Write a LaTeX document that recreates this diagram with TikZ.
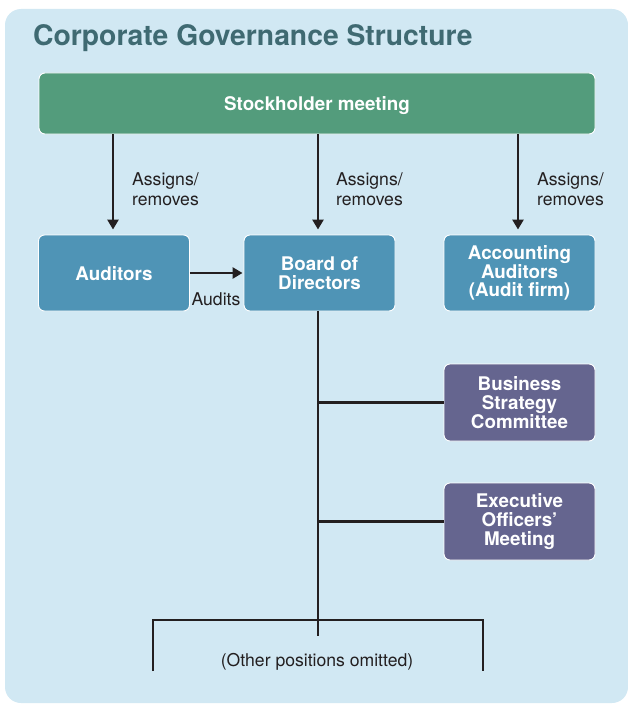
\documentclass[tikz,border=0pt]{standalone}
\usepackage{fontspec}
\setmainfont{TeX Gyre Heros}
\usetikzlibrary{arrows.meta}
\definecolor{bg}{HTML}{D1E8F3}
\definecolor{titlec}{HTML}{3F6A72}
\definecolor{greenbox}{HTML}{539C7C}
\definecolor{bluebox}{HTML}{4F94B6}
\definecolor{purplebox}{HTML}{65658F}
\definecolor{ink}{HTML}{231F20}
\tikzset{
  box/.style={draw=white, line width=0.9pt, rounded corners=6pt, text=white,
    font=\fontsize{18.8}{18.8}\selectfont\bfseries, align=center, inner sep=0pt},
  bbox/.style={box, fill=bluebox, minimum width=151pt, minimum height=76pt},
  pbox/.style={box, fill=purplebox, minimum width=151pt, minimum height=77pt},
  conn/.style={draw=ink, line width=2.6pt},
  arr/.style={conn, -{Triangle[length=10pt,width=11pt]}},
  lbl/.style={font=\fontsize{17.6}{20}\selectfont, text=ink, align=left, inner sep=0pt}
}
\begin{document}
\begin{tikzpicture}[x=1pt,y=-1pt]
\useasboundingbox (0,0) rectangle (628,706);
\fill[bg, rounded corners=16pt] (5,9) rectangle (628,703);
\node[anchor=west, text=titlec, font=\fontsize{28.3}{30}\selectfont\bfseries, inner sep=0pt] (title) at (33,38.5) {Corporate Governance Structure};

\node[box, fill=greenbox, minimum width=556pt, minimum height=61pt, text depth=0pt] (sh) at (317,103.5) {Stockholder meeting};

\node[bbox, text depth=0pt] (aud) at (114,273) {Auditors};
\node[bbox] (bod) at (319.5,273) {Board of\\Directors};
\node[bbox] (acc) at (519.5,273) {Accounting\\Auditors\\(Audit firm)};
\node[pbox] (bsc) at (519.5,402.5) {Business\\Strategy\\Committee};
\node[pbox] (eom) at (519.5,521.5) {Executive\\Officers’\\Meeting};

\draw[arr, shorten >=5pt] (sh.south -| 113,0) -- (aud.north -| 113,0);
\draw[arr, shorten >=5pt] (sh.south -| 318,0) -- (bod.north -| 318,0);
\draw[arr, shorten >=5pt] (sh.south -| 518,0) -- (acc.north -| 518,0);

\node[lbl, anchor=west] (l1) at (132,189) {Assigns/\\removes};
\node[lbl, anchor=west] (l2) at (336,189) {Assigns/\\removes};
\node[lbl, anchor=west] (l3) at (537,189) {Assigns/\\removes};

\draw[arr, shorten >=1pt] (aud.east) -- (bod.west);
\node[lbl, anchor=center] (audits) at (216,299) {Audits};

\coordinate (bend) at (318,636);
\draw[conn] (bod.south -| bend) -- (bend);
\draw[conn] (bend |- bsc.west) -- (bsc.west);
\draw[conn] (bend |- eom.west) -- (eom.west);

\coordinate (bl) at (153,671);
\coordinate (br) at (483,671);
\draw[conn] (bl) -- ++(0,-51) -| (br);
\node[lbl, anchor=center] (other) at (317,662) {(Other positions omitted)};
\end{tikzpicture}
\end{document}
